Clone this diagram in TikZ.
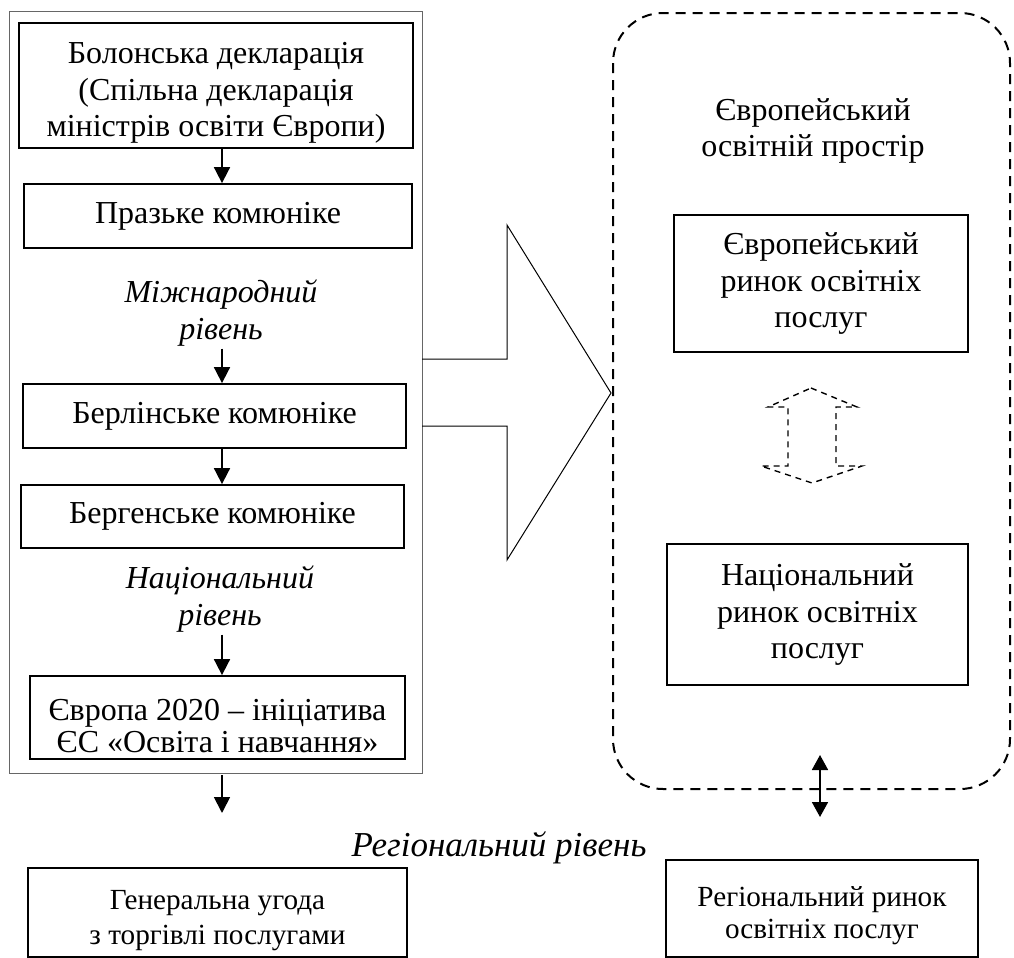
\documentclass[tikz,border=0pt]{standalone}
\usepackage{fontspec}
\setmainfont{Liberation Serif}
\usetikzlibrary{arrows.meta}

% taller first line, so that the text sits lower in its box
\newcommand{\droptext}[1]{\rule{0pt}{#1}}

\tikzset{
  docbox/.style={draw, line width=0.9pt, align=center, inner sep=2pt,
    font=\fontsize{16}{18.4}\selectfont},
  smallbox/.style={docbox, font=\fontsize{14.6}{#1}\selectfont},
  levellabel/.style={align=center, inner sep=1pt, font=\fontsize{16}{18.4}\selectfont\itshape},
  flowarrow/.style={line width=0.9pt, -{Triangle[length=8pt,width=8pt]}},
  linkarrow/.style={line width=0.9pt, {Triangle[length=7.5pt,width=8pt]}-{Triangle[length=7.5pt,width=8pt]}},
}

\begin{document}
\begin{tikzpicture}[x=0.5pt, y=-0.5pt]
  \useasboundingbox (0,0) rectangle (1014,958);
  % left column: documents of the Bologna process
  \draw[black!60, line width=0.5pt] (9,11) rectangle (422,773);
  \coordinate (spine) at (222,0);
  \coordinate (framebottom) at (222,775);
  \node[docbox, minimum width=197pt, minimum height=62.5pt] (bologna) at (216,85.5)
    {\droptext{18pt}Болонська декларація\\(Спільна декларація\\міністрів освіти Європи)};
  \node[docbox, minimum width=194pt, minimum height=32pt] (prague) at (218,216) {Празьке комюніке};
  \node[levellabel] (intl) at (221,313) {Міжнародний\\рівень};
  \node[docbox, minimum width=191.5pt, minimum height=32pt] (berlin) at (214.5,416) {Берлінське комюніке};
  \node[docbox, minimum width=191.5pt, minimum height=31.5pt] (bergen) at (212.5,516.5) {Бергенське комюніке};
  \node[levellabel] (natl) at (220,599) {Національний\\рівень};
  \node[docbox, font=\fontsize{16}{16}\selectfont,
    minimum width=187.5pt, minimum height=41.5pt] (europe) at (217.5,717.5)
    {\droptext{19pt}Європа 2020 – ініціатива\\ЄС «Освіта і навчання»};
  \node[levellabel, font=\fontsize{17.5}{21}\selectfont\itshape] (regional) at (499,848) {Регіональний рівень};
  \node[smallbox=17.5, minimum width=189.5pt, minimum height=44.5pt] (gats) at (217.5,912.5)
    {\droptext{17.7pt}Генеральна угода\\з торгівлі послугами};
  \coordinate (gatsarrow) at (222,813);
  \draw[flowarrow] (bologna.south -| spine) -- (prague.north -| spine);
  \draw[flowarrow] (intl.south -| spine) -- (berlin.north -| spine);
  \draw[flowarrow] (berlin.south -| spine) -- (bergen.north -| spine);
  \draw[flowarrow] (natl.south -| spine) -- (europe.north -| spine);
  \draw[flowarrow] (framebottom) -- (gatsarrow);
  % big hollow arrow into the education space
  \draw[line width=0.5pt] (422,359) -- (507,359) -- (507,225) -- (611,393)
    -- (507,560) -- (507,426) -- (422,426);
  % right column: European education space
  \draw[line width=1pt, dash pattern=on 5pt off 3.5pt, rounded corners=25pt]
    (613,13) rectangle (1010,789);
  \node[levellabel, font=\fontsize{16}{18.4}\selectfont] (ehea) at (813,131) {Європейський\\освітній простір};
  \node[docbox, minimum width=147pt, minimum height=68.5pt] (eumarket) at (821,283.5)
    {Європейський\\ринок освітніх\\послуг};
  \node[docbox, minimum width=150.5pt, minimum height=70.5pt] (natmarket) at (817.5,614.5)
    {Національний\\ринок освітніх\\послуг};
  \node[smallbox=16, minimum width=156pt, minimum height=48.5pt] (regmarket) at (822,908.5)
    {\droptext{17pt}Регіональний ринок\\освітніх послуг};
  % dashed two-way arrow between the markets
  \draw[line width=0.7pt, dash pattern=on 3pt off 2.5pt]
    (811,388) -- (857,407) -- (836,407) -- (836,466) -- (862,466) -- (812,483)
    -- (761,466) -- (788,466) -- (788,407) -- (768,407) -- cycle;
  \coordinate (linktop) at (820,755);
  \coordinate (linkbottom) at (820,817);
  \draw[linkarrow] (linktop) -- (linkbottom);
\end{tikzpicture}
\end{document}
